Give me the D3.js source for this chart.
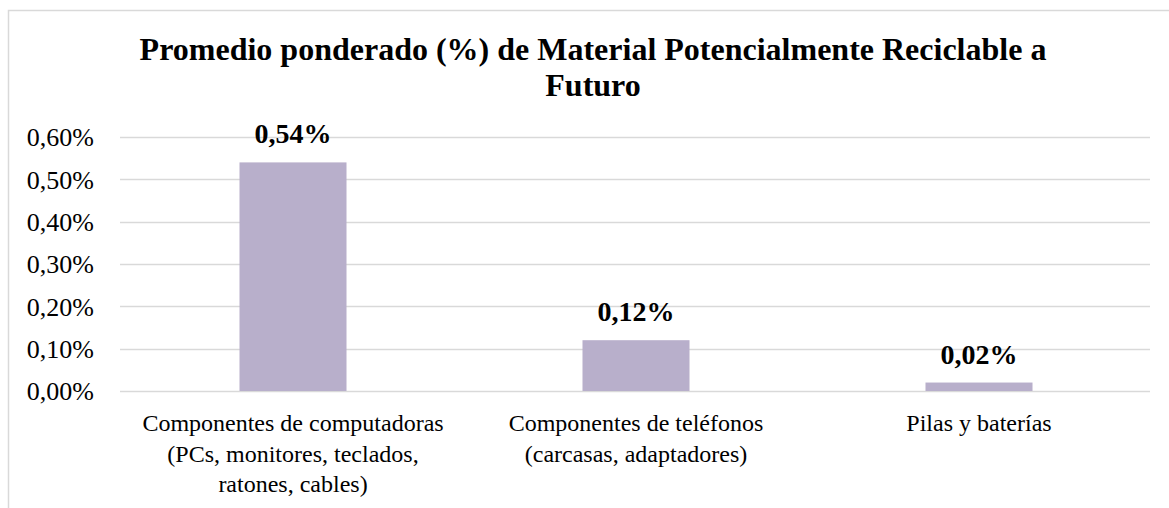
<!DOCTYPE html>
<html>
<head>
<meta charset="utf-8">
<script src="https://cdn.jsdelivr.net/npm/d3@7"></script>
<style>
  body { margin: 0; background: #fff; }
</style>
</head>
<body>
<div id="chart"></div>
<script>
// data
var categories = [
  ["Componentes de computadoras", "(PCs, monitores, teclados,", "ratones, cables)"],
  ["Componentes de teléfonos", "(carcasas, adaptadores)"],
  ["Pilas y baterías"]
];
var values = [0.54, 0.12, 0.02];
var yTicks = [0, 0.1, 0.2, 0.3, 0.4, 0.5, 0.6];
var titleLines = ["Promedio ponderado (%) de Material Potencialmente Reciclable a", "Futuro"];

var serif = "'Liberation Serif', 'DejaVu Serif', serif";

var svg_width = 1169;
var svg_height = 508;
var svg = d3.select("#chart").append("svg")
  .attr("width", svg_width)
  .attr("height", svg_height)
  .style("font-family", serif);

// chart frame (runs off the right and bottom edge)
svg.append("rect")
  .attr("x", 8.5).attr("y", 10.5)
  .attr("width", 1300).attr("height", 700)
  .attr("fill", "#fff")
  .attr("stroke", "#d9d9d9")
  .attr("stroke-width", 1.5);

var fmt = function(v) { return d3.format(".2f")(v).replace(".", ",") + "%"; };

var x = d3.scaleBand()
  .domain(d3.range(categories.length))
  .range([121.5, 1150.5])
  .paddingInner(0.688)
  .paddingOuter(0.344);

var y = d3.scaleLinear()
  .domain([0, 0.6])
  .range([391, 137]);

// grid lines
svg.append("g").selectAll("line")
  .data(yTicks)
  .enter().append("line")
    .attr("x1", 120).attr("x2", 1150)
    .attr("y1", function(d) { return Math.round(y(d)) + 0.5; })
    .attr("y2", function(d) { return Math.round(y(d)) + 0.5; })
    .attr("stroke", "#d9d9d9")
    .attr("stroke-width", 1.5);

// y axis labels
var yAxis = svg.append("g")
  .attr("transform", "translate(120,0)")
  .call(d3.axisLeft(y).tickValues(yTicks).tickFormat(fmt).tickSize(0).tickPadding(26));
yAxis.select(".domain").remove();
yAxis.selectAll("text")
  .style("font-family", serif)
  .attr("font-size", "26px")
  .attr("fill", "#000")
  .attr("dy", "0.34em");

// bars
svg.append("g").selectAll("rect")
  .data(values)
  .enter().append("rect")
    .attr("x", function(d, i) { return x(i); })
    .attr("y", function(d) { return y(d); })
    .attr("width", x.bandwidth())
    .attr("height", function(d) { return y(0) - y(d); })
    .attr("fill", "#b8afcb");

// value labels
svg.append("g").selectAll("text")
  .data(values)
  .enter().append("text")
    .style("font-family", serif)
    .attr("x", function(d, i) { return x(i) + x.bandwidth() / 2; })
    .attr("y", function(d) { return y(d) - 19; })
    .attr("text-anchor", "middle")
    .attr("font-size", "28px")
    .attr("font-weight", "bold")
    .text(fmt);

// category labels
var cat = svg.append("g").selectAll("text")
  .data(categories)
  .enter().append("text")
    .style("font-family", serif)
    .attr("text-anchor", "middle")
    .attr("font-size", "24px")
    .attr("transform", function(d, i) { return "translate(" + (x(i) + x.bandwidth() / 2) + ",431)"; });
cat.selectAll("tspan")
  .data(function(d) { return d; })
  .enter().append("tspan")
    .attr("x", 0)
    .attr("y", function(d, j) { return j * 30.5; })
    .text(function(d) { return d; });

// title
svg.append("text")
  .style("font-family", serif)
  .attr("text-anchor", "middle")
  .attr("font-size", "32px")
  .attr("font-weight", "bold")
  .selectAll("tspan")
  .data(titleLines)
  .enter().append("tspan")
    .attr("x", 593)
    .attr("y", function(d, i) { return 60 + i * 36; })
    .text(function(d) { return d; });
</script>
</body>
</html>
